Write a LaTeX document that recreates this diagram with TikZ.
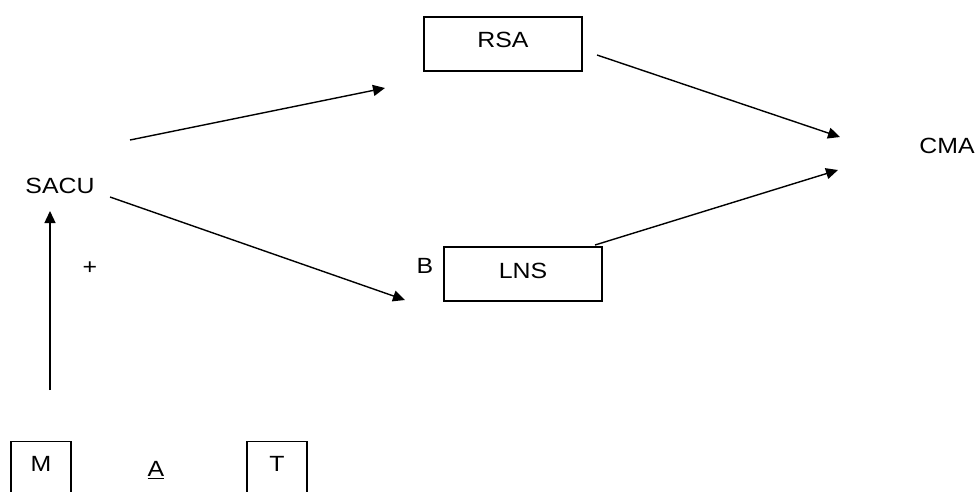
\documentclass[tikz,border=0pt]{standalone}
\usepackage{fontspec}
\setmainfont{Liberation Sans}[FakeStretch=1.13]
\usetikzlibrary{arrows.meta}
\tikzset{
  arr/.style={line width=1.4pt,-{Triangle[length=12pt,width=11pt]}},
  box/.style={draw,line width=1.4pt,rectangle,minimum width=158pt,minimum height=54pt,inner sep=0pt},
  smallbox/.style={draw,line width=1.4pt,rectangle,minimum width=60pt,minimum height=70pt,
    inner sep=0pt,anchor=north,text height=16pt,text depth=26pt},
  lbl/.style={inner sep=0pt}
}
\begin{document}
\begin{tikzpicture}[x=1pt,y=-1pt,font=\fontsize{22}{26}\selectfont]
    \clip (0,0) rectangle (977,491);
    \useasboundingbox (0,0) rectangle (977,491);
    %% boxes and labels
    \node[box,text height=16pt,text depth=10pt] (rsa) at (503,44) {RSA};
    \node[box,text height=16pt,text depth=8pt] (lns) at (523,274) {LNS};
    \node[lbl] (b) at (425,266) {B};
    \node[lbl] (sacu) at (60,186) {SACU};
    \node[lbl] (cma) at (947,146) {CMA};
    \node[lbl] (plus) at (90,268) {+};
    \node[smallbox] (m) at (41,441) {M};
    \node[smallbox] (t) at (277,441) {T};
    \node[lbl] (a) at (156,470) {\underline{A}};
    %%
    \coordinate (sr) at (130,140);  \coordinate (rs) at (385,88);
    \coordinate (sl) at (110,197);  \coordinate (ls) at (405,300);
    \coordinate (rc) at (597,55);   \coordinate (cr) at (840,137);
    \coordinate (lc) at (595,245);  \coordinate (cl) at (838,170);
    \coordinate (mu) at (50,390);   \coordinate (us) at (50,211);
    \draw[arr] (sr) -- (rs);
    \draw[arr] (sl) -- (ls);
    \draw[arr] (rc) -- (cr);
    \draw[arr] (lc) -- (cl);
    \draw[arr] (mu) -- (us);
\end{tikzpicture}
\end{document}
